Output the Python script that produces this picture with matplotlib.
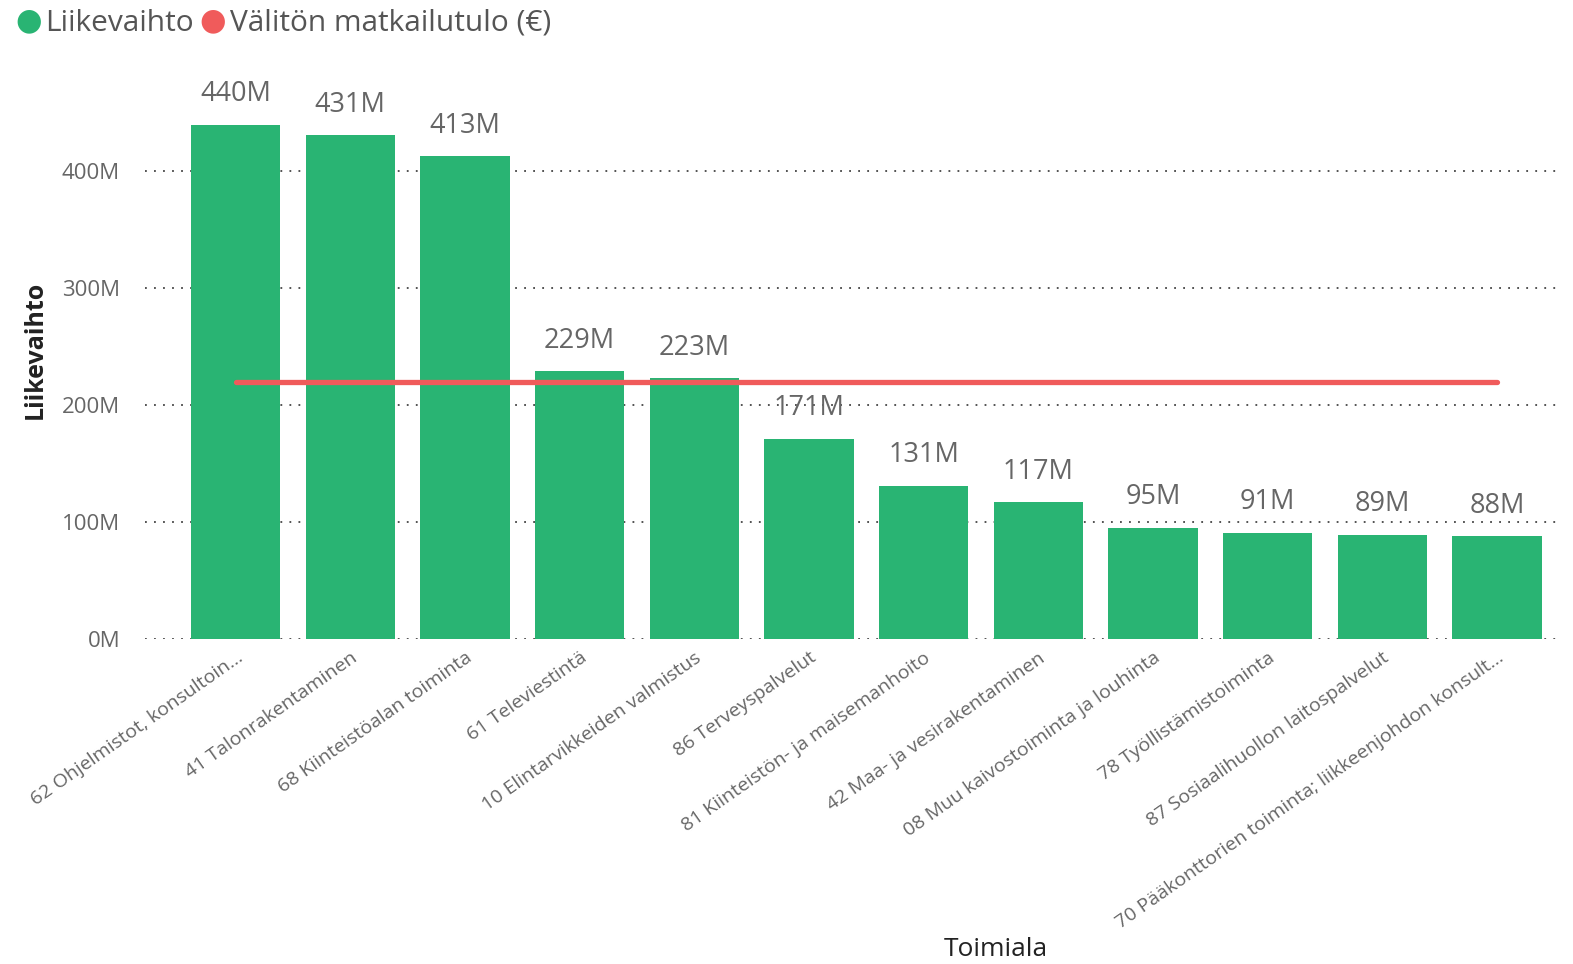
import matplotlib
matplotlib.use("Agg")
import matplotlib.pyplot as plt
from matplotlib.ticker import FuncFormatter

categories = [
    "62 Ohjelmistot, konsultoin...",
    "41 Talonrakentaminen",
    "68 Kiinteistöalan toiminta",
    "61 Televiestintä",
    "10 Elintarvikkeiden valmistus",
    "86 Terveyspalvelut",
    "81 Kiinteistön- ja maisemanhoito",
    "42 Maa- ja vesirakentaminen",
    "08 Muu kaivostoiminta ja louhinta",
    "78 Työllistämistoiminta",
    "87 Sosiaalihuollon laitospalvelut",
    "70 Pääkonttorien toiminta; liikkeenjohdon konsult...",
]
liikevaihto = [440e6, 431e6, 413e6, 229e6, 223e6, 171e6, 131e6, 117e6, 95e6, 91e6, 89e6, 88e6]
matkailutulo = [220e6, 220e6, 220e6, 220e6, 220e6, 220e6, 220e6, 220e6, 220e6, 220e6, 220e6, 220e6]
yticks = [0, 100e6, 200e6, 300e6, 400e6]

GREEN = "#29B473"
RED = "#F05B5B"
GRAY = "#666666"

plt.rcParams['font.family'] = ['Open Sans', 'DejaVu Sans']

fig = plt.figure(figsize=(15.73, 9.64), dpi=100)
ax = fig.add_axes([0.0922, 0.3371, 0.8995, 0.5990])

x = list(range(len(categories)))
ax.set_axisbelow(True)
ax.yaxis.grid(True, linestyle=(0, (1, 4)), color="#444444", linewidth=1.3)
ax.bar(x, liikevaihto, width=0.78, color=GREEN, zorder=2)
ax.plot(x, matkailutulo, color=RED, linewidth=3.8, solid_capstyle='round', zorder=3)

for xi, v in zip(x, liikevaihto):
    ax.annotate(f"{v/1e6:.0f}M", (xi, v), xytext=(0, 12), textcoords="offset points",
                ha="center", va="bottom", fontsize=19.5, color=GRAY, clip_on=False)

ax.set_xlim(-0.79, 11.55)
ax.set_ylim(0, 494e6)
ax.set_yticks(yticks)
ax.yaxis.set_major_formatter(FuncFormatter(lambda v, p: f"{v/1e6:.0f}M"))
ax.tick_params(axis='y', length=0, pad=18, labelsize=16, labelcolor=GRAY)
ax.tick_params(axis='x', length=0, pad=7)
ax.set_xticks(x)
ax.set_xticklabels(categories, rotation=35, ha="right", va="top", rotation_mode="anchor",
                   fontsize=14, color=GRAY)
for s in ax.spines.values():
    s.set_visible(False)

ax.set_ylabel("Liikevaihto", fontsize=18, color="#222222", fontweight="bold", labelpad=10)
fig.text(0.633, 0.002, "Toimiala", fontsize=19, color="#222222", ha="center", va="bottom")

# legend
fig.text(0.0095, 0.978, "●", color=GREEN, fontsize=22, ha="left", va="center", family=['DejaVu Sans'])
fig.text(0.0285, 0.976, "Liikevaihto", color="#555555", fontsize=21.5, ha="left", va="center")
fig.text(0.1265, 0.978, "●", color=RED, fontsize=22, ha="left", va="center", family=['DejaVu Sans'])
fig.text(0.1465, 0.976, "Välitön matkailutulo (€)", color="#555555", fontsize=21.5, ha="left", va="center")

fig.savefig("out.png", dpi=100)
